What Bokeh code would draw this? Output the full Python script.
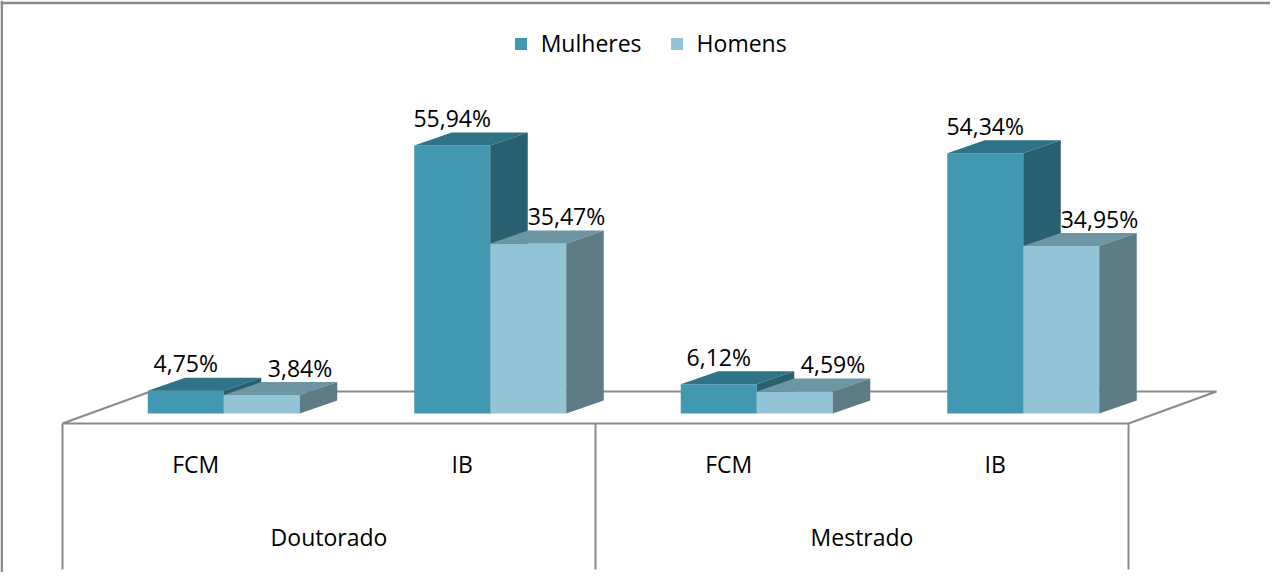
from bokeh.plotting import figure
from bokeh.models import Range1d, Span, Legend, LegendItem, ColumnDataSource
from bokeh.core.properties import value
from bokeh.embed import file_html
from bokeh.resources import INLINE

# ---- data ----
groups = ["Doutorado", "Mestrado"]
institutes = ["FCM", "IB", "FCM", "IB"]
mulheres = [4.75, 55.94, 6.12, 54.34]
homens = [3.84, 35.47, 4.59, 34.95]
series_names = ["Mulheres", "Homens"]

# ---- styling / geometry (pixels) ----
W, H = 1270, 572
UX = 266.5      # px per category slot
UY = 4.79       # px per percent
X0 = 62         # px position of floor front-left
Y0 = 413        # px position of bar base
TXT_UP = 9      # px correction for text baseline
FONT = "Open Sans"
FS = "23px"
LINE = "#8a8a8a"

front_col = ["#4198b0", "#93c4d5"]
top_col = ["#2f7386", "#6c96a2"]
side_col = ["#28606f", "#5c7b85"]

bar_w = 76 / UX
bdx, bdy = 37.5 / UX, 13 / UY
fsx, ffy = 28 / UX, 10 / UY
floor_dx, floor_dy = 88 / UX, 32 / UY

p = figure(width=W, height=H, output_backend="svg", toolbar_location=None,
           x_range=Range1d(-X0 / UX, (W - X0) / UX),
           y_range=Range1d(-(H - Y0) / UY, Y0 / UY),
           x_axis_type=None, y_axis_type=None, min_border=0,
           outline_line_color=None)
p.grid.visible = False

# outer frame (top & left)
p.add_layout(Span(location=p.x_range.start + 1.2 / UX, dimension="height",
                  line_color=LINE, line_width=2.5))
p.add_layout(Span(location=p.y_range.end - 2.5 / UY, dimension="width",
                  line_color=LINE, line_width=2.5))

n = len(institutes)
# floor
fy0 = -ffy
p.patch([0, n, n + floor_dx, floor_dx], [fy0, fy0, fy0 + floor_dy, fy0 + floor_dy],
        fill_color=None, line_color=LINE, line_width=2)
# category dividers
bottom_y = -(569 - Y0) / UY
for k in range(0, n + 1, 2):
    p.line([k, k], [fy0, bottom_y], line_color=LINE, line_width=2)

# bars
legend_items = []
for s, vals in enumerate([mulheres, homens]):
    x0 = [i + 0.5 + fsx + (s - 1) * bar_w for i in range(n)]
    x1 = [a + bar_w for a in x0]
    r = p.quad(left=x0, right=x1, bottom=[0] * n, top=vals,
               fill_color=front_col[s], line_color=None)
    legend_items.append(LegendItem(label=series_names[s], renderers=[r]))
    p.patches([[a, b, b + bdx, a + bdx] for a, b in zip(x0, x1)],
              [[v, v, v + bdy, v + bdy] for v in vals],
              fill_color=top_col[s], line_color=None)
    p.patches([[b, b, b + bdx, b + bdx] for b in x1],
              [[0, v, v + bdy, bdy] for v in vals],
              fill_color=side_col[s], line_color=None)
    shift = 0 if s == 0 else bdx * 1.02
    src = ColumnDataSource(dict(
        x=[(a + b) / 2 + shift for a, b in zip(x0, x1)],
        y=[v + bdy + (5.5 + TXT_UP) / UY for v in vals],
        t=[f"{v:.2f}%".replace(".", ",") for v in vals]))
    p.text("x", "y", text="t", source=src, text_align="center",
           text_baseline="alphabetic", text_font=value(FONT),
           text_font_size=FS, text_color="#000000")

# category labels
p.text([i + 0.5 for i in range(n)], [-(472.7 - TXT_UP - Y0) / UY] * n, text=institutes,
       text_align="center", text_baseline="alphabetic", text_font=value(FONT),
       text_font_size=FS, text_color="#000000")
p.text([2 * g + 1 for g in range(len(groups))], [-(545.3 - TXT_UP - Y0) / UY] * len(groups),
       text=groups, text_align="center", text_baseline="alphabetic",
       text_font=value(FONT), text_font_size=FS, text_color="#000000")

legend = Legend(items=legend_items, orientation="horizontal",
                location=(512.7, H - 28 - 31), glyph_width=15, glyph_height=15,
                label_standoff=13, spacing=27, padding=0, margin=0,
                border_line_color=None, background_fill_alpha=0,
                label_text_font=FONT, label_text_font_size=FS,
                label_text_color="#000000")
p.add_layout(legend, "center")

open("out.html", "w").write(file_html(p, INLINE))
